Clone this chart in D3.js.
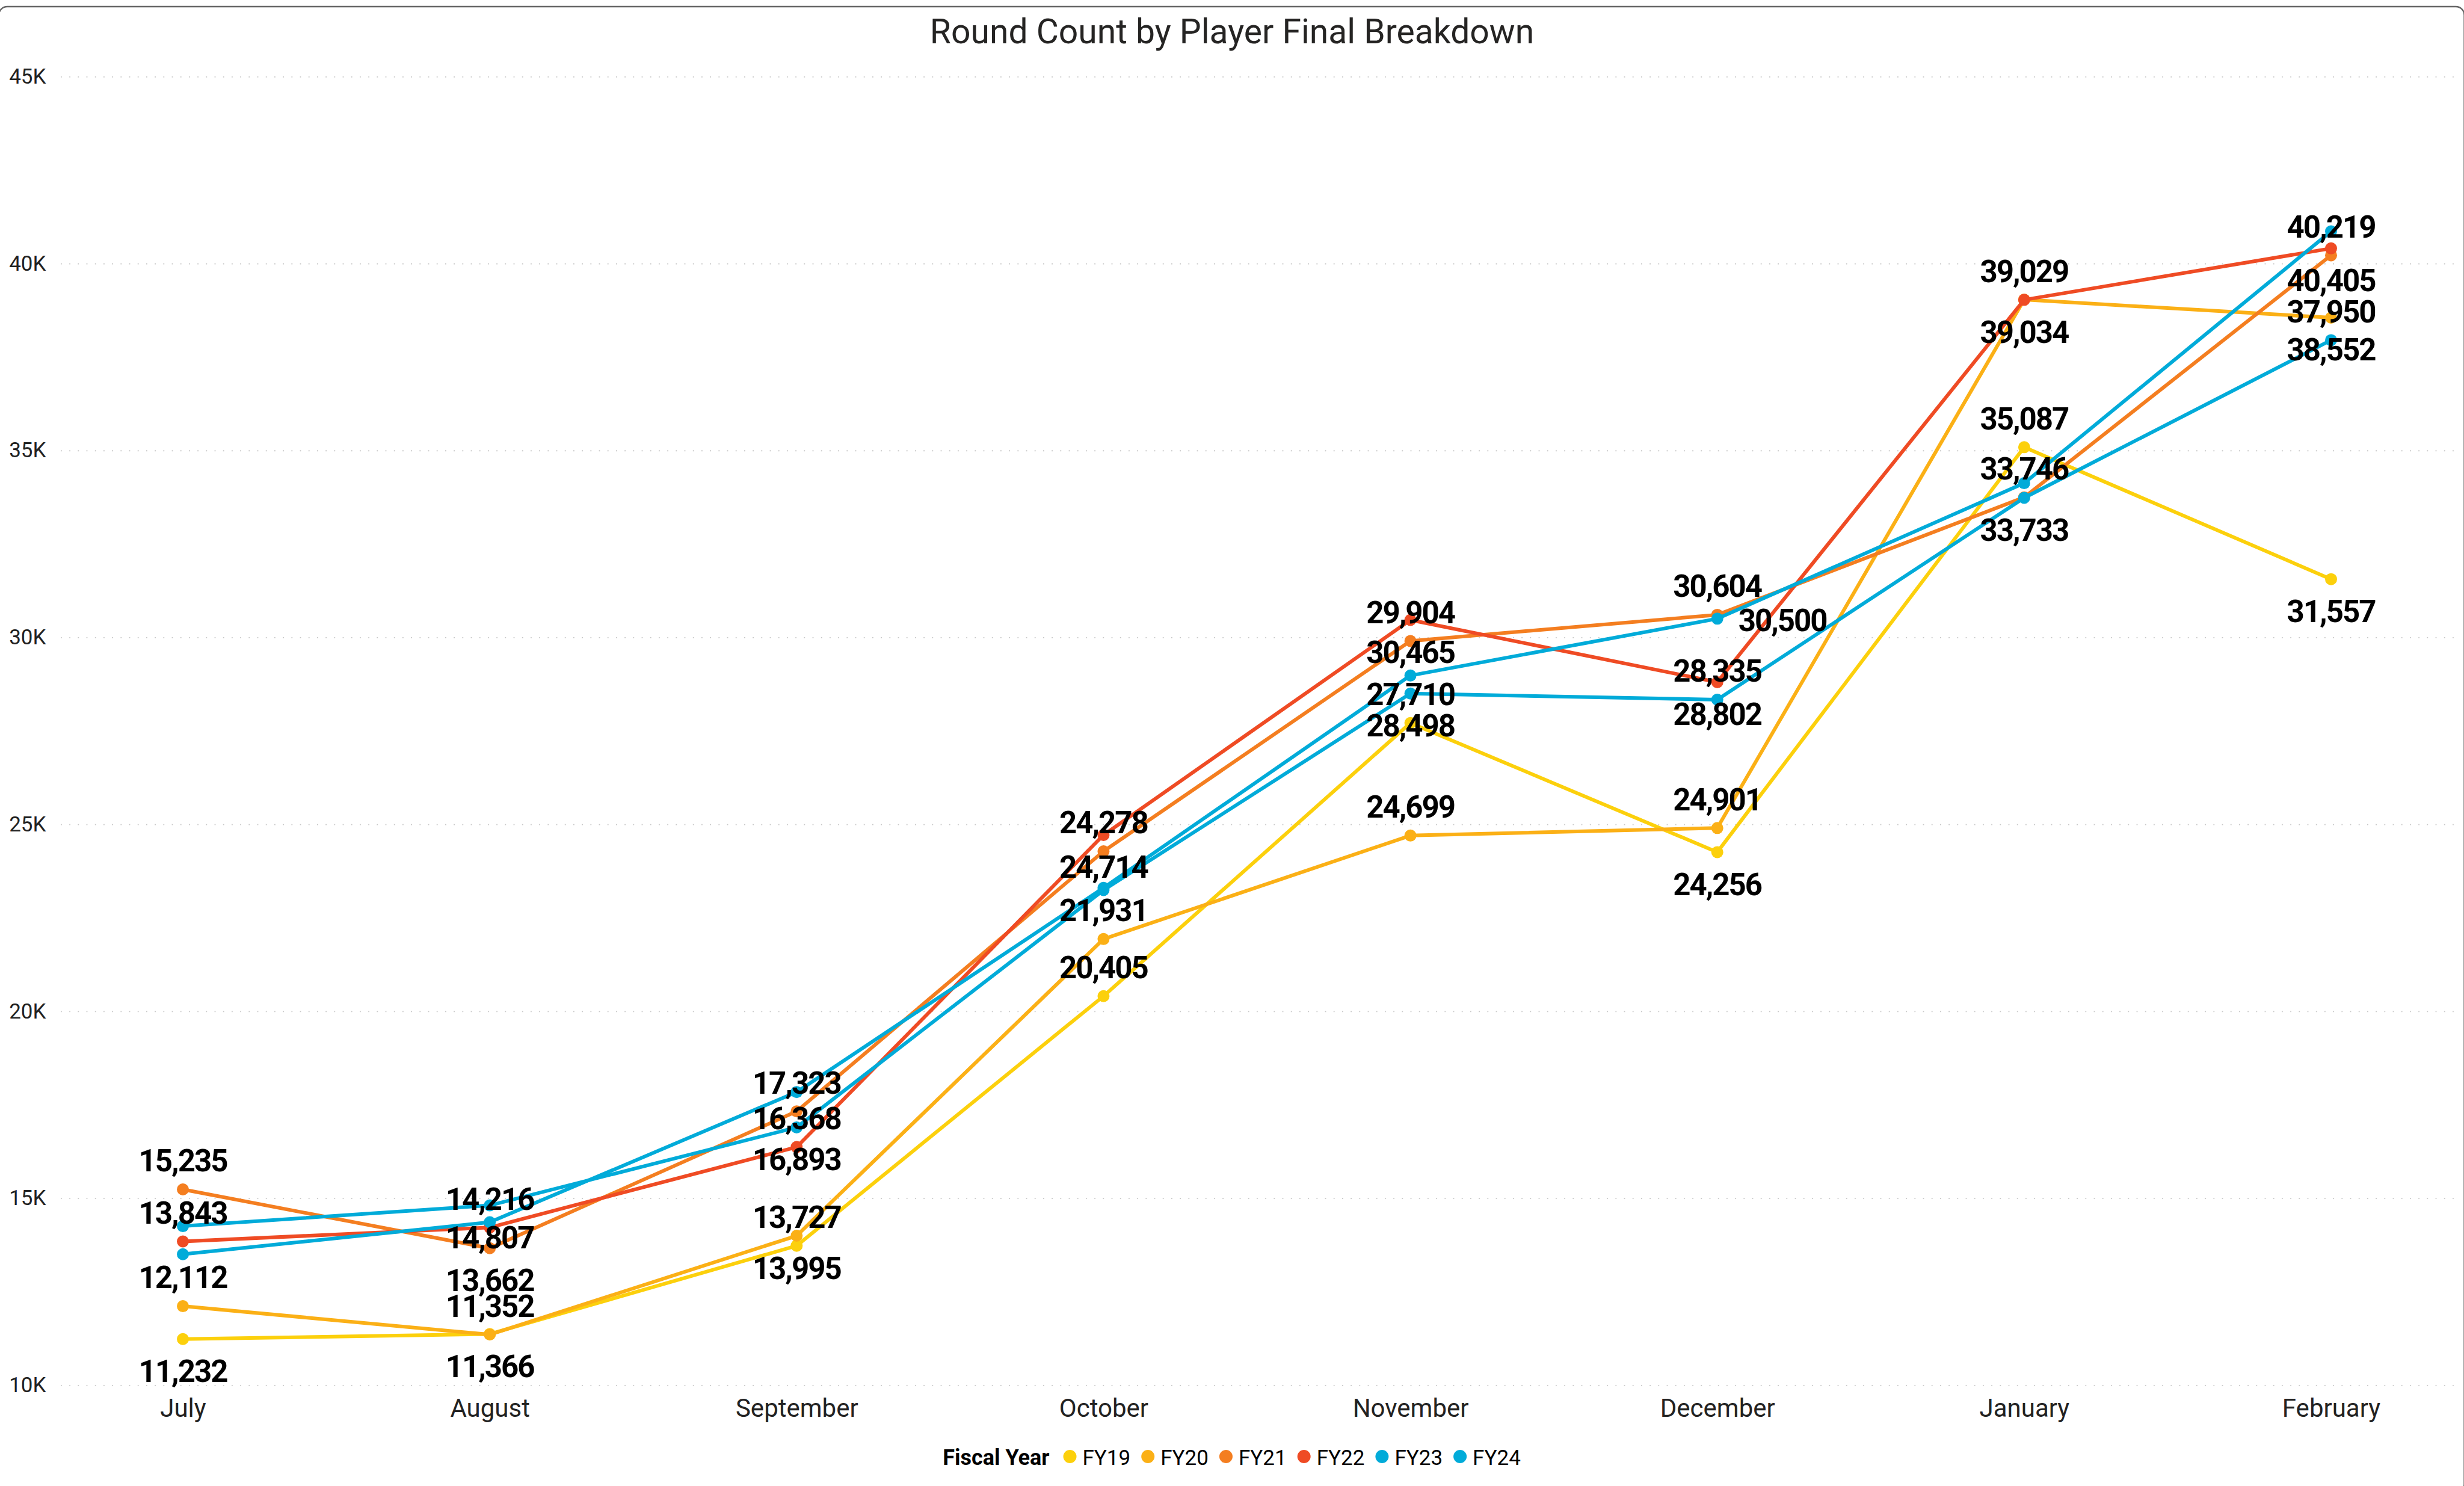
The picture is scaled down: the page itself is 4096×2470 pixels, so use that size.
<!DOCTYPE html>
<html>
<head>
<meta charset="utf-8">
<script src="https://cdn.jsdelivr.net/npm/d3@7"></script>
<style>
  html, body { margin: 0; padding: 0; background: #fff; }
  svg { display: block; }
</style>
</head>
<body>
<div id="chart"></div>
<script>
var months = ["July", "August", "September", "October", "November", "December", "January", "February"];
var seriesNames = ["FY19", "FY20", "FY21", "FY22", "FY23", "FY24"];
var yTicks = [10000, 15000, 20000, 25000, 30000, 35000, 40000, 45000];

var fy19 = [11232, 11366, 13727, 20405, 27710, 24256, 35087, 31557];
var fy20 = [12112, 11352, 13995, 21931, 24699, 24901, 39034, 38552];
var fy21 = [15235, 13662, 17323, 24278, 29904, 30604, 33746, 40219];
var fy22 = [13843, 14216, 16368, 24714, 30465, 28802, 39029, 40405];
var fy23 = [14252, 14807, 16893, 23240, 28498, 28335, 33733, 37950];
var fy24 = [13500, 14357, 17839, 23300, 28980, 30500, 34125, 40860];

// where each data label sits: a = above, b = below, r = right, "" = hidden
var lab19 = ["b", "b", "a", "a", "a", "b", "a", "b"];
var lab20 = ["a", "a", "b", "a", "a", "a", "b", "b"];
var lab21 = ["a", "b", "a", "a", "a", "a", "a", "a"];
var lab22 = ["a", "a", "a", "b", "b", "b", "a", "b"];
var lab23 = ["", "b", "b", "", "b", "a", "b", "a"];
var lab24 = ["", "", "", "", "", "r", "", ""];

var colors = ["#FCD00C", "#FBB016", "#F47E20", "#EF4B24", "#01ABD9", "#01ABD9"];

var series = [fy19, fy20, fy21, fy22, fy23, fy24].map(function(vals, k) {
    return {name: seriesNames[k], values: vals, color: colors[k],
            labels: [lab19, lab20, lab21, lab22, lab23, lab24][k]};
});

var width = 4096, height = 2470;
var plotLeft = 101, plotRight = 4081;

var svg = d3.select("#chart").append("svg")
    .attr("width", width)
    .attr("height", height);

// visual frame (only the top edge and right corner fall inside the window)
svg.append("rect")
    .attr("x", -2)
    .attr("y", 11)
    .attr("width", width + 2.5)
    .attr("height", height)
    .attr("rx", 14)
    .attr("fill", "none")
    .attr("stroke", "#666")
    .attr("stroke-width", 2.4);

var xScale = d3.scalePoint()
    .domain(months)
    .range([304, 3875]);

var yScale = d3.scaleLinear()
    .domain([10000, 45000])
    .range([2302.3, 127.3]);

// y axis with dotted gridlines
var yAxis = svg.append("g")
    .attr("transform", "translate(" + plotLeft + ",0)")
    .call(d3.axisLeft(yScale)
        .tickValues(yTicks)
        .tickSize(-(plotRight - plotLeft))
        .tickPadding(24.5)
        .tickFormat(d => (d / 1000) + "K"));
yAxis.select(".domain").remove();
yAxis.selectAll("line")
    .attr("stroke", "#c8c8c8")
    .attr("stroke-width", 1.8)
    .attr("stroke-dasharray", "1.8,12.4");
yAxis.selectAll("text")
    .attr("fill", "#222")
    .style("font-family", "Roboto, 'Segoe UI', sans-serif")
    .style("font-size", "35px");

// x axis
var xAxis = svg.append("g")
    .attr("transform", "translate(0,2355)")
    .call(d3.axisBottom(xScale).tickSize(0));
xAxis.select(".domain").remove();
xAxis.selectAll("text")
    .attr("y", 0)
    .attr("dy", null)
    .attr("fill", "#222")
    .style("font-family", "Roboto, 'Segoe UI', sans-serif")
    .style("font-size", "42px");

// lines and markers
var line = d3.line()
    .x((d, i) => xScale(months[i]))
    .y(d => yScale(d));

series.forEach(function(s) {
    var g = svg.append("g");
    g.append("path")
        .datum(s.values)
        .attr("d", line)
        .attr("fill", "none")
        .attr("stroke", s.color)
        .attr("stroke-width", 6)
        .attr("stroke-linejoin", "round");
    g.selectAll("circle")
        .data(s.values)
        .enter().append("circle")
        .attr("cx", (d, i) => xScale(months[i]))
        .attr("cy", d => yScale(d))
        .attr("r", 10)
        .attr("fill", s.color);
});

// data labels
var fmt = d3.format(",");
var labelLayer = svg.append("g")
    .style("font-family", "Roboto, 'DIN', sans-serif")
    .style("font-weight", "700")
    .style("font-size", "51px")
    .style("letter-spacing", "-2px")
    .attr("fill", "#000");

series.forEach(function(s) {
    s.values.forEach(function(v, i) {
        var pos = s.labels[i];
        if (!pos) return;
        var px = xScale(months[i]), py = yScale(v);
        var t = labelLayer.append("text").text(fmt(v));
        if (pos === "a") {
            t.attr("x", px).attr("y", py - 29.6).attr("text-anchor", "middle");
        } else if (pos === "b") {
            t.attr("x", px).attr("y", py + 71.5).attr("text-anchor", "middle");
        } else {
            t.attr("x", px + 35).attr("y", py + 20.7).attr("text-anchor", "start");
        }
    });
});

// title
svg.append("text")
    .attr("x", width / 2)
    .attr("y", 71.5)
    .attr("text-anchor", "middle")
    .attr("fill", "#252423")
    .style("font-family", "Roboto, 'Segoe UI', sans-serif")
    .style("font-size", "57px")
    .text("Round Count by Player Final Breakdown");

// legend
var legend = svg.append("g");
var lx = 0;
var head = legend.append("text")
    .attr("x", lx)
    .attr("y", 2435)
    .attr("fill", "#000")
    .style("font-family", "Roboto, 'Segoe UI', sans-serif")
    .style("font-weight", "700")
    .style("font-size", "36px")
    .text("Fiscal Year");
lx += head.node().getComputedTextLength() + 34;
series.forEach(function(s) {
    legend.append("circle")
        .attr("cx", lx)
        .attr("cy", 2421)
        .attr("r", 11)
        .attr("fill", s.color);
    var t = legend.append("text")
        .attr("x", lx + 21)
        .attr("y", 2435)
        .attr("fill", "#000")
        .style("font-family", "Roboto, 'Segoe UI', sans-serif")
        .style("font-size", "35px")
        .text(s.name);
    lx += 21 + t.node().getComputedTextLength() + 29;
});
var legendWidth = lx - 29 - 11;
legend.attr("transform", "translate(" + (2042 - legendWidth / 2) + ",0)");
</script>
</body>
</html>
